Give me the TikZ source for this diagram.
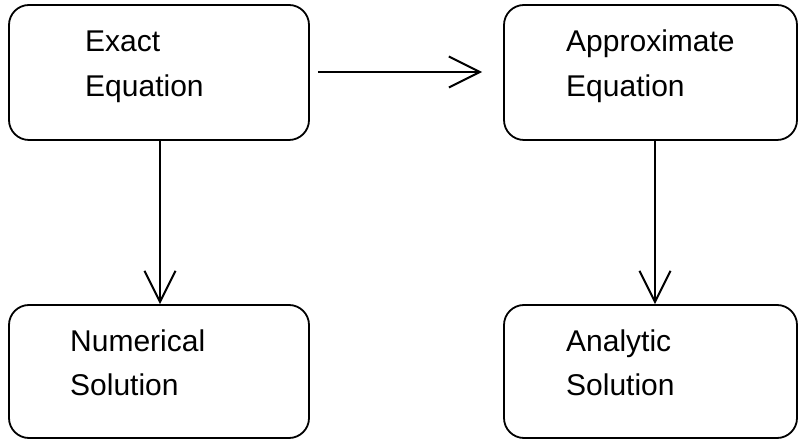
\documentclass[tikz,border=0pt]{standalone}
\usepackage{fontspec}
\setmainfont{Liberation Sans}
\usetikzlibrary{arrows.meta}
\begin{document}
\begin{tikzpicture}[x=1pt,y=1pt,
  box/.style={draw, line width=1.8pt, rounded corners=20pt, inner sep=0pt},
  lbl/.style={anchor=base west, inner sep=0pt, font=\fontsize{30}{45}\selectfont},
  conn/.style={line width=2pt, -{Straight Barb[length=31pt, width=31pt, line width=2pt]}}]
\useasboundingbox (0,0) rectangle (799,441);
\node[box, minimum width=300pt, minimum height=135pt] (A) at (159,368.5) {};
\node[box, minimum width=293pt, minimum height=135pt] (B) at (650.5,368.5) {};
\node[box, minimum width=300pt, minimum height=133pt] (C) at (159,69.5) {};
\node[box, minimum width=293pt, minimum height=133pt] (D) at (650.5,69.5) {};
\node[lbl] (a1) at (85,389) {Exact};
\node[lbl] (a2) at (85,344) {Equation};
\node[lbl] (b1) at (566,389) {Approximate};
\node[lbl] (b2) at (566,344) {Equation};
\node[lbl] (c1) at (70,89) {Numerical};
\node[lbl] (c2) at (70,45) {Solution};
\node[lbl] (d1) at (566,89) {Analytic};
\node[lbl] (d2) at (566,45) {Solution};
\draw[conn] ([xshift=8pt,yshift=0.5pt]A.east) -- ([xshift=-21pt,yshift=0.5pt]B.west);
\draw[conn] ([xshift=1pt]A.south) -- ([xshift=1pt]C.north);
\draw[conn] ([xshift=4.5pt]B.south) -- ([xshift=4.5pt]D.north);
\end{tikzpicture}
\end{document}
